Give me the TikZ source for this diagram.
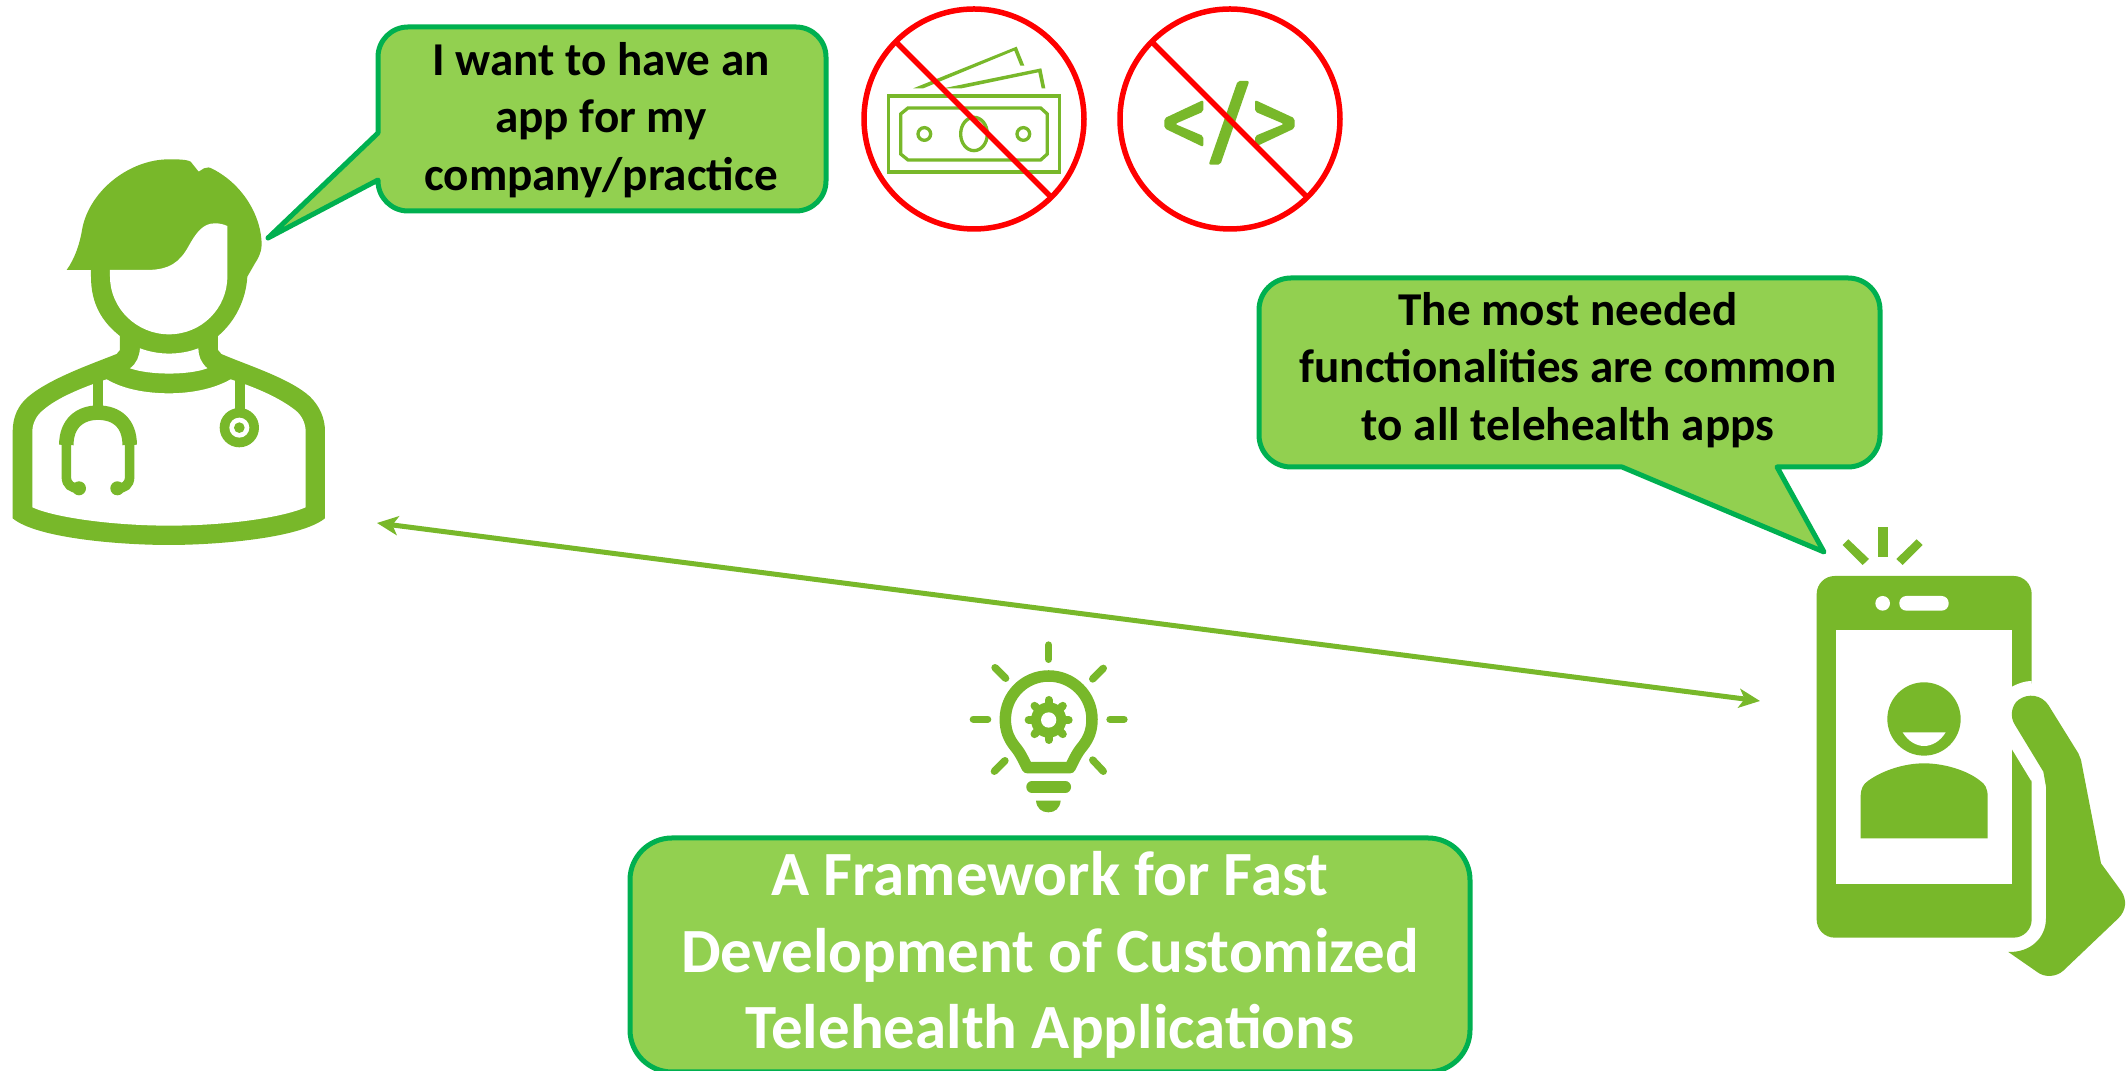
\documentclass[tikz,border=0pt]{standalone}
\usepackage{fontspec}
\setmainfont{Carlito}
\usetikzlibrary{arrows.meta}
\definecolor{icongreen}{HTML}{78B82A}
\definecolor{bubblegreen}{HTML}{92D050}
\definecolor{bubbleline}{HTML}{00B050}
\tikzset{
    bubble/.style = {line width=0.05cm, draw=bubbleline, fill=bubblegreen, line join=round},
    saying/.style = {align=center, inner sep=0pt, font=\fontsize{13.4}{16.4}\selectfont\bfseries},
    banner/.style = {align=center, inner sep=0pt, text=white, font=\fontsize{17.9}{21.75}\selectfont\bfseries},
    forbid/.style = {line width=0.055cm, draw=red},
    iconline/.style = {draw=icongreen, line width=0.033cm},
    ray/.style = {draw=icongreen, line width=0.073cm, line cap=round},
    link/.style = {{Stealth[length=0.21cm,width=0.19cm,inset=0.055cm]}-{Stealth[length=0.21cm,width=0.19cm,inset=0.055cm]}, draw=icongreen, line width=0.05cm}
}
\begin{document}
\begin{tikzpicture}[x=0.01cm, y=-0.01cm]
    \useasboundingbox (0,0) rectangle (2126,1071);
    \fill [white] (0,0) rectangle (2126,1071);

    % Doctor
    \begin{scope}[shift={(0,130)}, scale=0.33333]
        % Shoulders and coat
        \fill [icongreen] (38,1165) -- (38,905) .. controls (38,860) and (55,825) .. (85,800)
            .. controls (150,745) and (280,700) .. (350,672) -- (360,660) -- (360,618) -- (654,618) -- (654,660) -- (664,672)
            .. controls (740,705) and (870,745) .. (930,800) .. controls (960,830) and (975,865) .. (975,905)
            -- (975,1165) .. controls (900,1225) and (650,1245) .. (507,1245) .. controls (360,1245) and (110,1225) .. (38,1165) -- cycle;
        \fill [white] (97,905) -- (97,1132) .. controls (170,1165) and (350,1187) .. (507,1187) .. controls (670,1187) and (840,1165) .. (917,1132)
            -- (917,905) .. controls (917,880) and (905,855) .. (885,840) .. controls (840,805) and (775,775) .. (692,748)
            .. controls (640,778) and (570,790) .. (507,790) .. controls (440,790) and (370,778) .. (320,748)
            .. controls (240,775) and (170,805) .. (130,840) .. controls (110,855) and (97,880) .. (97,905) -- cycle;
        % Collar
        \fill [white] (390,715) .. controls (450,736) and (565,736) .. (622,715) .. controls (603,698) and (595,678) .. (595,655)
            .. controls (540,676) and (475,676) .. (420,655) .. controls (418,680) and (410,700) .. (390,715) -- cycle;
        % Hair and head
        \fill [icongreen] (200,420) .. controls (225,385) and (240,340) .. (247,295) .. controls (270,180) and (390,88) .. (507,88)
            .. controls (530,88) and (560,88) .. (572,95) -- (596,125) -- (612,115) .. controls (620,110) and (630,112) .. (640,118)
            .. controls (730,165) and (785,260) .. (785,345) .. controls (785,365) and (775,385) .. (765,400) -- (742,440)
            .. controls (738,510) and (705,575) .. (654,618) -- (360,618) .. controls (305,575) and (273,520) .. (273,440) -- (273,420) -- cycle;
        \fill [white] (330,420) -- (440,420) .. controls (510,420) and (540,395) .. (565,350) .. controls (590,305) and (610,280) .. (645,280)
            .. controls (660,280) and (670,283) .. (682,288) -- (682,440) .. controls (682,535) and (605,613) .. (507,613)
            .. controls (410,613) and (330,535) .. (330,440) -- cycle;
        % Stethoscope
        \fill [icongreen] (280,745) rectangle (308,835);
        \fill [icongreen] (705,745) rectangle (735,845);
        \fill [icongreen] (718,893) circle (59);
        \fill [white] (718,893) circle (30);
        \fill [icongreen] (718,893) circle (16);
        \draw [icongreen, line width=0.145cm] (199,945) .. controls (199,880) and (240,848) .. (294,848) .. controls (350,848) and (389,880) .. (389,945);
        \draw [icongreen, line width=0.095cm] (199,940) -- (199,1040) .. controls (199,1065) and (215,1075) .. (237,1075);
        \draw [icongreen, line width=0.095cm] (389,940) -- (389,1040) .. controls (389,1065) and (373,1075) .. (352,1075);
        \fill [icongreen] (237,1075) circle (21);
        \fill [icongreen] (352,1075) circle (21);
    \end{scope}

    % Doctor speech
    \draw [bubble] (378,133) -- (268,238) -- (378,180) [rounded corners=0.3cm] -- (378,211) -- (826,211) -- (826,27) -- (378,27) [sharp corners] -- cycle;
    \node [saying] (wanttext) at (601,120) {I want to have an\\app for my\\company/practice};

    % No money
    \begin{scope}[shift={(840,0)}, scale=0.33333]
        \draw [iconline] (146,288) rectangle (658,516);
        \draw [iconline] (204,324) -- (602,324) -- (622,342) -- (622,462) -- (602,480) -- (204,480) -- (182,462) -- (182,342) -- cycle;
        \draw [iconline] (253,402) circle (19);
        \draw [iconline] (550,402) circle (19);
        \draw [iconline] (402,402) ellipse (40 and 50);
        \fill [icongreen] (220,265) -- (530,140) -- (553,197) -- (541,197) -- (523,152) -- (250,265) -- cycle;
        \fill [icongreen] (310,265) -- (604,205) -- (616,265) -- (605,265) -- (595,217) -- (365,265) -- cycle;
    \end{scope}
    \draw [forbid] (974,119) circle (110);
    \draw [forbid] (897,43) -- (1051,197);

    % No code
    \begin{scope}[shift={(840,0)}, scale=0.33333]
        \fill [icongreen, rounded corners=0.02cm] (1090,300) -- (1090,335) -- (1005,372) -- (1090,408) -- (1090,441) -- (973,385) -- (973,355) -- cycle;
        \fill [icongreen, rounded corners=0.02cm] (1245,300) -- (1245,335) -- (1332,372) -- (1245,408) -- (1245,441) -- (1364,385) -- (1364,355) -- cycle;
        \fill [icongreen, rounded corners=0.02cm] (1193,243) -- (1228,243) -- (1141,494) -- (1106,494) -- cycle;
    \end{scope}
    \draw [forbid] (1230,119) circle (110);
    \draw [forbid] (1153,43) -- (1307,197);

    % Phone speech
    \draw [bubble] (1622,467) -- (1824,552) -- (1777,467) [rounded corners=0.32cm] -- (1880,467) -- (1880,278) -- (1259,278) -- (1259,467) [sharp corners] -- cycle;
    \node [saying] (neededtext) at (1568,370) {The most needed\\functionalities are common\\to all telehealth apps};

    % Phone in hand
    \begin{scope}[shift={(1780,510)}, scale=0.33333]
        \fill [icongreen] (294,50) rectangle (324,140);
        \fill [icongreen] (205,88) -- (267,147) -- (248,165) -- (188,105) -- cycle;
        \fill [icongreen] (410,88) -- (428,105) -- (368,165) -- (349,147) -- cycle;
        \fill [icongreen, rounded corners=0.18cm] (110,198) rectangle (755,1283);
        \fill [white] (168,360) rectangle (696,1122);
        \fill [white] (308,280) circle (22);
        \fill [white, rounded corners=0.07cm] (358,258) rectangle (506,302);
        % Caller
        \fill [icongreen] (432,627) circle (110);
        \fill [white] (368,667) -- (497,667) .. controls (480,695) and (455,708) .. (432,708) .. controls (410,708) and (385,695) .. (368,667) -- cycle;
        \fill [icongreen] (242,985) -- (242,860) .. controls (242,835) and (250,822) .. (265,812) .. controls (310,780) and (375,760) .. (432,760)
            .. controls (490,760) and (560,780) .. (600,812) .. controls (615,822) and (623,835) .. (623,860) -- (623,985) -- cycle;
        % Hand
        \fill [white] (696,530) .. controls (715,520) and (735,513) .. (755,513) -- (760,700) -- (755,815) -- (696,718) -- cycle;
        \fill [icongreen] (685,1326) -- (770,1385) .. controls (795,1405) and (830,1400) .. (850,1382) -- (1015,1225)
            .. controls (1040,1200) and (1040,1170) .. (1025,1145) -- (963,1060) -- (903,750) -- (895,730) -- (805,585)
            .. controls (785,555) and (745,548) .. (715,570) .. controls (695,585) and (688,620) .. (705,645)
            -- (790,785) -- (798,830) -- (798,1225) .. controls (798,1285) and (750,1328) .. (685,1326) -- cycle;
    \end{scope}

    % Arrow between doctor and phone
    \coordinate (doctorend) at (377,523);
    \coordinate (phoneend) at (1760,701);
    \draw [link] (doctorend) -- (phoneend);

    % Light bulb
    \begin{scope}[shift={(950,630)}, scale=0.33333]
        \draw [ray] (296,45) -- (296,88);
        \draw [ray] (135,113) -- (167,145);
        \draw [ray] (460,115) -- (428,147);
        \draw [ray] (70,268) -- (113,268);
        \draw [ray] (480,268) -- (522,268);
        \draw [ray] (165,392) -- (133,424);
        \draw [ray] (428,390) -- (460,424);
        \draw [icongreen, line width=0.115cm, line join=round] (232,413) .. controls (220,390) and (212,370) .. (195,350) .. controls (175,325) and (166,300) .. (166,268)
            .. controls (166,196) and (224,138) .. (296,138) .. controls (368,138) and (426,196) .. (426,268)
            .. controls (426,300) and (417,325) .. (397,350) .. controls (380,370) and (372,390) .. (360,413) -- cycle;
        % Gear
        \coordinate (gearcentre) at (296,270);
        \fill [icongreen] (gearcentre) circle (53);
        \foreach \a in {0,45,...,315} {
            \draw [icongreen, line width=0.08cm, line cap=round] (gearcentre) -- ++(\a:60);
        }
        \fill [white] (gearcentre) circle (23);
        % Base
        \draw [icongreen, line width=0.115cm, line cap=round] (246,471) -- (346,471);
        \fill [icongreen] (258,512) -- (332,512) .. controls (330,535) and (315,547) .. (295,547) .. controls (275,547) and (260,535) .. (258,512) -- cycle;
    \end{scope}

    % Framework box
    \draw [bubble, rounded corners=0.42cm] (630,838) rectangle (1470,1072);
    \node [banner] (frameworktext) at (1050,955) {A Framework for Fast\\Development of Customized\\Telehealth Applications};
\end{tikzpicture}
\end{document}
